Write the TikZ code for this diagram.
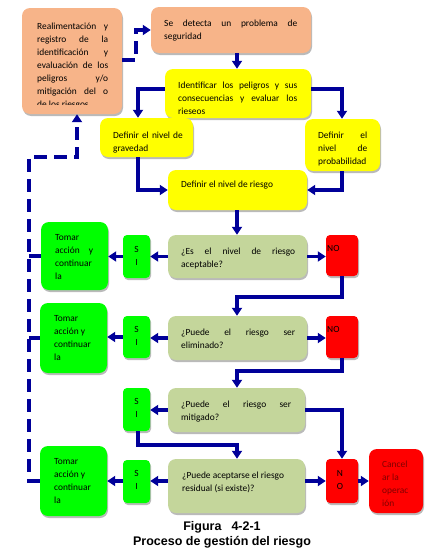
\documentclass[tikz,border=0pt]{standalone}
\usepackage{fontspec}
\setmainfont{Carlito}
\newfontfamily\capfont{Liberation Sans}
\usetikzlibrary{arrows.meta,fit,shadows}
\definecolor{peach}{RGB}{247,180,137}
\definecolor{yel}{RGB}{255,255,0}
\definecolor{khaki}{RGB}{196,214,155}
\definecolor{grn}{RGB}{0,255,0}
\definecolor{rd}{RGB}{255,0,0}
\definecolor{navy}{RGB}{0,0,153}
\definecolor{maroon}{RGB}{128,0,0}
\begin{document}
\begin{tikzpicture}[x=1pt,y=-1pt,
  box/.style={rounded corners=8pt, inner sep=0pt,
    drop shadow={shadow xshift=1pt,shadow yshift=-2pt,fill=black!45,opacity=0.6}},
  sbox/.style={box, rounded corners=4pt},
  txt/.style={anchor=north west, inner sep=0pt, yshift=-2.5pt, font=\fontsize{9.4}{13}\selectfont, align=justify},
  ctxt/.style={anchor=north, inner sep=0pt, yshift=-2.5pt, font=\fontsize{9.4}{13}\selectfont, align=center},
  arr/.style={draw=navy, line width=3.5pt, -{Triangle[length=8pt,width=10pt]}},
  dsh/.style={draw=navy, line width=4pt, dash pattern=on 13pt off 7pt},
]
\useasboundingbox (0,0) rectangle (447,557);

% column / row helpers
\coordinate (cx) at (237,0);
\coordinate (lx) at (138,0);
\coordinate (rx) at (342,0);
\coordinate (dx) at (29,0);
\coordinate (ex) at (77,0);
\coordinate (fx) at (136,0);
\coordinate (k1) at (0,297);
\coordinate (k2) at (0,371);
\coordinate (k3) at (0,445);
\coordinate (k4) at (0,157);
\coordinate (k5) at (0,60);
\coordinate (k6) at (0,30);
\coordinate (r4) at (0,481);

% boxes
\node[box,fill=peach,fit={(22,8)(122,114)}] (real) {};
\node[box,fill=peach,fit={(151,7)(311,53)}] (det) {};
\node[box,fill=yel,fit={(165,69)(311,118)}] (ide) {};
\node[box,fill=yel,fit={(100,118)(193,157)}] (gra) {};
\node[box,fill=yel,fit={(305,119)(380,171)}] (pro) {};
\node[box,fill=yel,fit={(168,170)(307,210)}] (rie) {};

\node[box,fill=khaki,fit={(168,235)(307,278)}] (q1) {};
\node[sbox,fill=grn,fit={(123,235)(150,278)}] (si1) {};
\node[box,fill=grn,fit={(41,222)(108,290)}] (t1) {};
\node[sbox,fill=rd,fit={(326,235)(358,276)}] (no1) {};

\node[box,fill=khaki,fit={(168,316)(307,360)}] (q2) {};
\node[sbox,fill=grn,fit={(123,316)(150,358)}] (si2) {};
\node[box,fill=grn,fit={(40,303)(107,373)}] (t2) {};
\node[sbox,fill=rd,fit={(326,316)(358,358)}] (no2) {};

\node[box,fill=khaki,fit={(168,388)(305,432)}] (q3) {};
\node[sbox,fill=grn,fit={(123,388)(150,431)}] (si3) {};

\node[box,fill=khaki,fit={(168,459)(305,513)}] (q4) {};
\node[sbox,fill=grn,fit={(123,460)(150,503)}] (si4) {};
\node[box,fill=grn,fit={(40,446)(107,516)}] (t3) {};
\node[sbox,fill=rd,fit={(326,459)(358,503)}] (no4) {};
\node[box,fill=rd,fit={(369,449)(423,513)}] (can) {};

% texts
\begin{scope}
\clip (22,8) rectangle (122,104);
\node[txt,text width=71pt] (realt) at (37,20) {Realimentación y\linebreak registro de la\linebreak identificación y\linebreak evaluación de los\linebreak peligros y/o\linebreak mitigación del o\linebreak de los riesgos};
\end{scope}
\node[txt,text width=133pt] (dett) at (164,17) {Se detecta un problema de\linebreak seguridad};
\node[txt,text width=119pt] (idet) at (178,79) {Identificar los peligros y sus\linebreak consecuencias y evaluar los\linebreak rieseos};
\node[txt,text width=75pt,align=left] (grat) at (113,129) {Definir el nivel de\\gravedad};
\node[txt,text width=49pt] (prot) at (318,129) {Definir el\linebreak nivel de\linebreak probabilidad};
\node[txt,align=left] (riet) at (181,178) {Definir el nivel de riesgo};

\node[txt,text width=114pt] (q1t) at (181,245) {¿Es el nivel de riesgo\linebreak aceptable?};
\node[ctxt] (si1t) at (136.5,244) {S\\I};
\node[txt,text width=38pt] (t1t) at (55,232) {Tomar\linebreak acción y\linebreak continuar\linebreak la};
\node[txt,align=left] (no1t) at (327,243) {NO};

\node[txt,text width=114pt] (q2t) at (181,326) {¿Puede el riesgo ser\linebreak eliminado?};
\node[ctxt] (si2t) at (136.5,324) {S\\I};
\node[txt,align=left] (t2t) at (54,313) {Tomar\\acción y\\continuar\\la};
\node[txt,align=left] (no2t) at (327,324) {NO};

\node[txt,text width=110pt] (q3t) at (181,398) {¿Puede el riesgo ser\linebreak mitigado?};
\node[ctxt] (si3t) at (136.5,396) {S\\I};

\node[txt,align=left] (q4t) at (182,469) {¿Puede aceptarse el riesgo\\residual (si existe)?};
\node[ctxt] (si4t) at (136.5,468) {S\\I};
\node[txt,align=left] (t3t) at (54,456) {Tomar\\acción y\\continuar\\la};
\node[ctxt] (no4t) at (340,468) {N\\O};
\node[txt,align=left,text=maroon] (cant) at (382,458) {Cancel\\ar la\\operac\\ión};

% connectors
\draw[arr] (det.south -| cx) -- (ide.north -| cx);
\draw[arr] ([yshift=4.5pt]ide.west) -| (gra.north -| lx);
\draw[arr] ([yshift=4.5pt]ide.east) -| (pro.north -| rx);
\draw[arr] (gra.south -| lx) |- (rie.west);
\draw[arr] (pro.south -| rx) |- (rie.east);
\draw[arr] (rie.south -| cx) -- (q1.north -| cx);

\draw[arr] (q1.west) -- (q1.west -| si1.east);
\draw[arr] (si1.west) -- (si1.west -| t1.east);
\draw[arr] (q1.east) -- (q1.east -| no1.west);
\draw[arr] (no1.south -| rx) -- (k1 -| rx) -| (q2.north -| cx);

\draw[arr] (q2.west) -- (q2.west -| si2.east);
\draw[arr] (si2.west) -- (si2.west -| t2.east);
\draw[arr] (q2.east) -- (q2.east -| no2.west);
\draw[arr] (no2.south -| rx) -- (k2 -| rx) -| (q3.north -| cx);

\draw[arr] (q3.west) -- (q3.west -| si3.east);
\draw[arr] (q3.east) -| (no4.north -| rx);
\draw[arr] (si3.south -| lx) -- (k3 -| lx) -| (q4.north -| cx);

\draw[arr] (q4.west |- r4) -- (si4.east |- r4);
\draw[arr] (si4.west |- r4) -- (t3.east |- r4);
\draw[arr] (q4.east |- r4) -- (no4.west |- r4);
\draw[arr] (no4.east |- r4) -- (can.west |- r4);

% feedback (dashed)
\draw[dsh,-{Triangle[length=8pt,width=10pt]}] (t3.west |- r4) -- (dx |- r4) -- (dx |- k4) -- (ex |- k4) -- (real.south -| ex);
\draw[draw=navy, line width=4pt] (t1.west) -- (t1.west -| dx);
\draw[draw=navy, line width=4pt] (t2.west) -- (t2.west -| dx);
\draw[dsh,-{Triangle[length=8pt,width=10pt]}] (real.east |- k5) -- (fx |- k5) -- (fx |- k6) -- (det.west |- k6);

% caption
\node[anchor=north, inner sep=0pt, align=center, font=\capfont\bfseries\fontsize{12.5}{15}\selectfont] (cap) at (222,521) {Figura\hspace{10pt}4-2-1\\Proceso de gestión del riesgo};
\end{tikzpicture}
\end{document}
